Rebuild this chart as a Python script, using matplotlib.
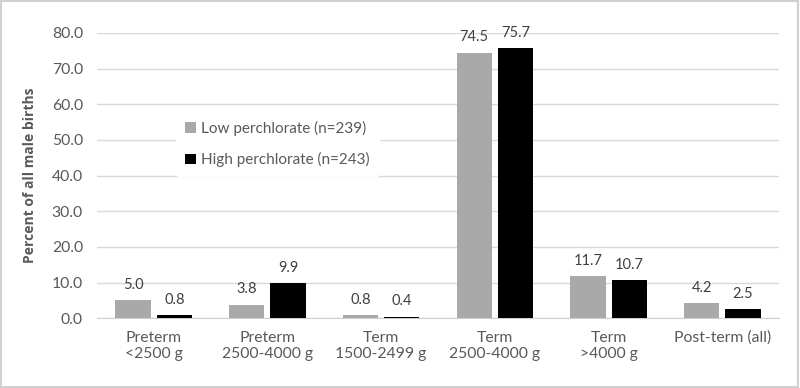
import matplotlib.pyplot as plt
import numpy as np
from matplotlib.patches import Rectangle

categories = ["Preterm\n<2500 g", "Preterm\n2500-4000 g", "Term\n1500-2499 g",
              "Term\n2500-4000 g", "Term\n>4000 g", "Post-term (all)"]
low = [5.0, 3.8, 0.8, 74.5, 11.7, 4.2]
high = [0.8, 9.9, 0.4, 75.7, 10.7, 2.5]
series_names = ["Low perchlorate (n=239)", "High perchlorate (n=243)"]
yticks = [0, 10, 20, 30, 40, 50, 60, 70, 80]

plt.rcParams["font.family"] = ["Lato", "DejaVu Sans"]
text_color = "#595959"

fig = plt.figure(figsize=(8, 3.88), dpi=100)
ax = fig.add_axes([0.121, 0.18, 0.853, 0.735])

x = np.arange(len(categories))
w = 0.31
off = 0.182
b1 = ax.bar(x - off, low, w, color="#a9a9a9", label=series_names[0], zorder=3)
b2 = ax.bar(x + off, high, w, color="#000000", label=series_names[1], zorder=3)

for bars, vals in ((b1, low), (b2, high)):
    for r, v in zip(bars, vals):
        ax.annotate(f"{v:.1f}", (r.get_x() + r.get_width() / 2, v),
                    xytext=(0, 6), textcoords="offset points",
                    ha="center", va="bottom", fontsize=10.5, color="#404040")

ax.set_xlim(-0.5, len(categories) - 0.5)
ax.set_ylim(0, 80)
ax.set_yticks(yticks)
ax.set_yticklabels([f"{t:.1f}" for t in yticks])
ax.set_xticks(x)
ax.set_xticklabels(categories)
ax.tick_params(axis="both", length=0, labelsize=11.3, colors=text_color)
ax.tick_params(axis="x", pad=9)
ax.tick_params(axis="y", pad=10)
ax.grid(axis="y", color="#d9d9d9", linewidth=1, zorder=0)
for s in ["top", "right", "left"]:
    ax.spines[s].set_visible(False)
ax.spines["bottom"].set_color("#d0d0d0")
ax.set_ylabel("Percent of all male births", fontsize=10, fontweight="bold",
              family=["Open Sans", "DejaVu Sans"], color=text_color, labelpad=11)

leg = ax.legend(loc="upper left", bbox_to_anchor=(0.105, 0.75), frameon=True,
                fontsize=11, handlelength=0.7, handleheight=0.7,
                handletextpad=0.35, labelspacing=1.05, borderpad=0.6)
leg.get_frame().set_facecolor("white")
leg.get_frame().set_edgecolor("white")
leg.get_frame().set_alpha(1)
for t in leg.get_texts():
    t.set_color(text_color)
leg.set_zorder(5)

fig.patches.append(Rectangle((0.001, 0.002), 0.997, 0.995, transform=fig.transFigure,
                             fill=False, edgecolor="#d0d0d0", linewidth=1.5))

fig.savefig("out.png", dpi=100)
